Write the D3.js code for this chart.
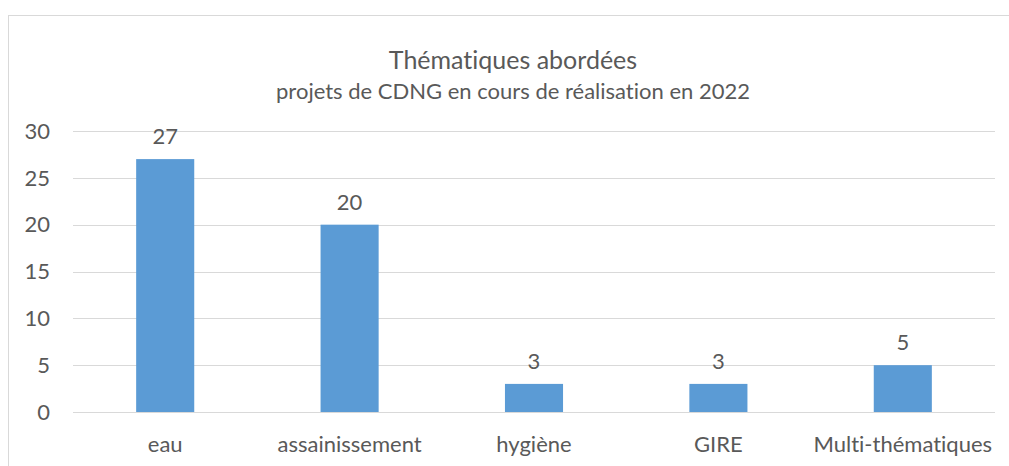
<!DOCTYPE html>
<html>
<head>
<meta charset="utf-8">
<script src="https://cdn.jsdelivr.net/npm/d3@7"></script>
<style>
  body { margin: 0; background: #fff; }
  text { font-family: Lato, "Noto Sans", sans-serif; fill: #595959; font-variant-ligatures: none; }
</style>
</head>
<body>
<div id="chart"></div>
<script>
// data
const categories = ["eau", "assainissement", "hygiène", "GIRE", "Multi-thématiques"];
const values = [27, 20, 3, 3, 5];
const yTicks = [0, 5, 10, 15, 20, 25, 30];
const title = "Thématiques abordées";
const subtitle = "projets de CDNG en cours de réalisation en 2022";

const width = 1009, height = 466;
const svg = d3.select("#chart").append("svg").attr("width", width).attr("height", height);

// outer chart border (runs off right and bottom)
svg.append("rect")
    .attr("x", 8.5).attr("y", 15.5)
    .attr("width", 1100).attr("height", 500)
    .attr("fill", "none")
    .attr("stroke", "#d9d9d9")
    .attr("stroke-width", 1);

const x = d3.scaleBand()
    .domain(categories)
    .range([73, 995])
    .paddingInner(0.685)
    .paddingOuter(0.3425);

const y = d3.scaleLinear()
    .domain([0, 30])
    .range([412, 131]);

// gridlines
svg.selectAll(".grid")
    .data(yTicks)
    .enter().append("line")
    .attr("x1", 73).attr("x2", 995)
    .attr("y1", d => Math.round(y(d)) + 0.5)
    .attr("y2", d => Math.round(y(d)) + 0.5)
    .attr("stroke", "#d9d9d9")
    .attr("stroke-width", 1);

// y labels
svg.selectAll(".ylab")
    .data(yTicks)
    .enter().append("text")
    .attr("x", 50)
    .attr("y", d => y(d))
    .attr("dy", "0.35em")
    .attr("text-anchor", "end")
    .style("font-size", "22px")
    .text(d => d);

// bars
svg.selectAll(".bar")
    .data(values)
    .enter().append("rect")
    .attr("x", (d, i) => x(categories[i]))
    .attr("y", d => y(d))
    .attr("width", x.bandwidth())
    .attr("height", d => y(0) - y(d))
    .attr("fill", "#5b9bd5");

// value labels
svg.selectAll(".vlab")
    .data(values)
    .enter().append("text")
    .attr("x", (d, i) => x(categories[i]) + x.bandwidth() / 2)
    .attr("y", d => y(d) - 15)
    .attr("text-anchor", "middle")
    .style("font-size", "22px")
    .text(d => d);

// category labels
svg.selectAll(".xlab")
    .data(categories)
    .enter().append("text")
    .attr("x", d => x(d) + x.bandwidth() / 2)
    .attr("y", 452)
    .attr("text-anchor", "middle")
    .style("font-size", "22px")
    .text(d => d);

// titles
svg.append("text")
    .attr("x", 513).attr("y", 69)
    .attr("text-anchor", "middle")
    .style("font-size", "25px")
    .text(title);

svg.append("text")
    .attr("x", 513).attr("y", 99)
    .attr("text-anchor", "middle")
    .style("font-size", "22px")
    .text(subtitle);
</script>
</body>
</html>
